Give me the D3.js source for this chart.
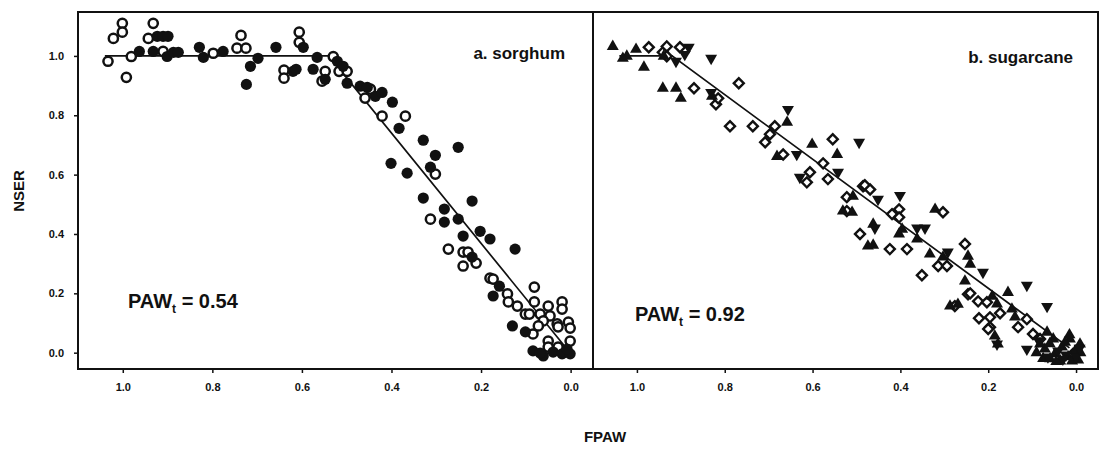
<!DOCTYPE html>
<html>
<head>
<meta charset="utf-8">
<script src="https://cdn.jsdelivr.net/npm/d3@7"></script>
<style>
  html, body { margin: 0; padding: 0; background: #fff; }
  svg { display: block; }
  text { font-family: "Liberation Sans", Arial, sans-serif; font-weight: bold; fill: #111; }
</style>
</head>
<body>
<svg id="chart" width="1102" height="452"></svg>
<script>
// ---------- DATA (FPAW, NSER) ----------
const xTicks = [1.0, 0.8, 0.6, 0.4, 0.2, 0.0];
const yTicks = [0.0, 0.2, 0.4, 0.6, 0.8, 1.0];

const sorghumOpen = [
  [1.033,0.982],[1.021,1.059],[1.001,1.110],[1.001,1.080],[0.992,0.928],[0.981,0.998],
  [0.943,1.059],[0.932,1.110],[0.910,1.015],[0.798,1.009],[0.745,1.026],[0.736,1.069],
  [0.725,1.026],[0.640,0.952],[0.640,0.925],[0.606,1.080],[0.606,1.046],[0.555,0.915],
  [0.548,0.948],[0.530,0.998],[0.517,0.948],[0.499,0.948],[0.447,0.888],[0.459,0.858],
  [0.421,0.797],[0.369,0.797],[0.302,0.602],[0.313,0.450],[0.273,0.349],[0.240,0.339],
  [0.229,0.339],[0.211,0.302],[0.240,0.292],[0.180,0.251],[0.173,0.248],[0.141,0.198],
  [0.139,0.171],[0.119,0.157],[0.081,0.221],[0.081,0.171],[0.101,0.130],[0.092,0.130],
  [0.050,0.157],[0.019,0.171],[0.019,0.147],[0.068,0.130],[0.046,0.124],[0.061,0.107],
  [0.030,0.097],[0.005,0.103],[0.001,0.083],[0.028,0.087],[0.072,0.090],[0.084,0.063],
  [0.050,0.039],[0.001,0.039],[0.050,0.019],[0.028,0.019]
];
const sorghumFilled = [
  [0.963,1.015],[0.932,1.015],[0.923,1.066],[0.910,1.066],[0.899,1.066],[0.901,0.998],
  [0.887,1.012],[0.876,1.012],[0.829,1.029],[0.820,0.995],[0.776,1.015],[0.715,0.965],
  [0.724,0.904],[0.698,0.992],[0.658,1.029],[0.620,0.948],[0.613,0.955],[0.597,1.029],
  [0.575,0.955],[0.566,0.995],[0.548,0.921],[0.521,0.982],[0.508,0.965],[0.499,0.908],
  [0.470,0.898],[0.454,0.894],[0.436,0.864],[0.421,0.877],[0.398,0.844],[0.383,0.756],
  [0.329,0.716],[0.251,0.692],[0.302,0.665],[0.401,0.638],[0.365,0.605],[0.313,0.625],
  [0.329,0.521],[0.220,0.511],[0.282,0.484],[0.282,0.440],[0.251,0.450],[0.202,0.409],
  [0.180,0.383],[0.240,0.393],[0.124,0.349],[0.220,0.322],[0.159,0.224],[0.173,0.191],
  [0.130,0.090],[0.101,0.070],[0.084,0.006],[0.061,-0.011],[0.039,0.002],[0.019,-0.004],
  [0.001,-0.004],[0.008,0.012],[0.068,-0.001]
];
const sorghumFit = [[1.04,1.0],[0.54,1.0],[0.015,0.025]];

const caneUp = [
  [1.055,1.032],[1.002,1.022],[1.023,0.999],[1.032,0.992],[0.984,0.962],[0.939,0.999],
  [0.941,0.891],[0.911,0.891],[0.900,0.857],[0.829,0.864],[0.658,0.776],[0.601,0.702],
  [0.681,0.661],[0.544,0.668],[0.531,0.477],[0.474,0.359],[0.508,0.527],[0.510,0.473],
  [0.462,0.433],[0.462,0.362],[0.403,0.400],[0.396,0.416],[0.362,0.383],[0.333,0.332],
  [0.303,0.322],[0.321,0.483],[0.246,0.325],[0.241,0.298],[0.253,0.241],[0.269,0.163],
  [0.155,0.203],[0.287,0.157],[0.191,0.190],[0.180,0.164],[0.146,0.147],[0.139,0.120],
  [0.185,0.056],[0.178,0.029],[0.066,0.069],[0.014,0.046],[0.052,0.046],[0.071,0.012],
  [0.048,-0.004],[0.032,0.019],[0.018,-0.014],[0.002,0.006],[-0.009,0.029],[0.059,-0.021],
  [0.036,-0.028],[0.009,-0.028],[0.082,0.029],[0.075,-0.020],[0.025,0.035],[0.045,-0.030],
  [-0.005,-0.025],[0.060,0.030],[0.015,0.060],[-0.010,0.000],[0.090,0.000]
];
const caneDown = [
  [0.882,1.029],[0.891,1.005],[0.911,0.982],[0.831,0.992],[0.831,0.877],[0.656,0.820],
  [0.494,0.709],[0.636,0.668],[0.629,0.591],[0.542,0.608],[0.451,0.517],[0.458,0.420],
  [0.401,0.530],[0.362,0.420],[0.344,0.420],[0.292,0.339],[0.212,0.271],[0.112,0.227],
  [0.066,0.156],[0.180,0.029],[0.112,0.012],[0.041,0.006],[0.023,-0.008],[0.000,-0.014],
  [0.064,-0.014],[0.030,-0.022],[0.085,0.040],[-0.008,0.015]
];
const caneDiamond = [
  [0.973,1.029],[0.941,1.012],[0.932,1.032],[0.902,1.029],[0.932,0.999],[0.870,0.891],
  [0.768,0.908],[0.820,0.837],[0.815,0.857],[0.788,0.763],[0.736,0.763],[0.686,0.763],
  [0.697,0.736],[0.708,0.709],[0.554,0.719],[0.667,0.668],[0.576,0.638],[0.606,0.608],
  [0.613,0.574],[0.565,0.585],[0.522,0.524],[0.522,0.477],[0.485,0.561],[0.492,0.400],
  [0.481,0.564],[0.469,0.550],[0.424,0.349],[0.385,0.349],[0.403,0.483],[0.403,0.456],
  [0.419,0.467],[0.351,0.261],[0.314,0.292],[0.294,0.292],[0.253,0.366],[0.303,0.473],
  [0.246,0.197],[0.223,0.173],[0.203,0.170],[0.241,0.200],[0.276,0.157],[0.221,0.116],
  [0.196,0.119],[0.196,0.086],[0.173,0.133],[0.132,0.086],[0.112,0.113],[0.098,0.063],
  [0.082,0.046],[0.007,-0.004],[0.200,0.080]
];
const caneFit = [[1.04,1.0],[0.92,1.0],[0.015,0.016]];

// ---------- LAYOUT ----------
const svg = d3.select("#chart");
const plotTop = 12, plotBottom = 369;
const panels = [
  {x0: 78, x1: 593, label: "a. sorghum", paw: "0.54", labelPos: [565, 59], pawPos: [128, 308]},
  {x0: 593, x1: 1098, label: "b. sugarcane", paw: "0.92", labelPos: [1073, 63], pawPos: [635, 321]}
];
const y = d3.scaleLinear().domain([-0.055, 1.148]).range([plotBottom, plotTop]);
panels.forEach(p => { p.x = d3.scaleLinear().domain([1.1, -0.05]).range([p.x0, p.x1]); });

// x axes
panels.forEach(p => {
  const g = svg.append("g").attr("transform", `translate(0,${plotBottom})`)
    .call(d3.axisBottom(p.x).tickValues(xTicks).tickFormat(d3.format(".1f")).tickSize(4).tickPadding(10));
  g.select(".domain").remove();
  g.selectAll("line").attr("stroke", "#111").attr("stroke-width", 1.5);
  g.selectAll("text").style("font-size", "11px").style("font-weight", "bold").attr("fill", "#111");
});
// y axis
{
  const g = svg.append("g").attr("transform", `translate(${panels[0].x0},0)`)
    .call(d3.axisLeft(y).tickValues(yTicks).tickFormat(d3.format(".1f")).tickSize(4).tickPadding(10));
  g.select(".domain").remove();
  g.selectAll("line").attr("stroke", "#111").attr("stroke-width", 1.5);
  g.selectAll("text").style("font-size", "11px").style("font-weight", "bold").attr("fill", "#111");
}

// frames
panels.forEach(p => {
  svg.append("rect").attr("x", p.x0).attr("y", plotTop).attr("width", p.x1 - p.x0).attr("height", plotBottom - plotTop)
    .attr("fill", "none").attr("stroke", "#111").attr("stroke-width", 2);
});

// fit lines
const line = sx => d3.line().x(d => sx(d[0])).y(d => y(d[1]));
svg.append("path").datum(sorghumFit).attr("d", line(panels[0].x)).attr("fill", "none").attr("stroke", "#111").attr("stroke-width", 1.7);
svg.append("path").datum(caneFit).attr("d", line(panels[1].x)).attr("fill", "none").attr("stroke", "#111").attr("stroke-width", 1.7);

// sorghum points
const xa = panels[0].x, xb = panels[1].x;
svg.append("g").selectAll("circle").data(sorghumOpen).join("circle")
  .attr("cx", d => xa(d[0])).attr("cy", d => y(d[1])).attr("r", 4.6)
  .attr("fill", "#fff").attr("stroke", "#111").attr("stroke-width", 2.5);
svg.append("g").selectAll("circle").data(sorghumFilled).join("circle")
  .attr("cx", d => xa(d[0])).attr("cy", d => y(d[1])).attr("r", 5.6)
  .attr("fill", "#111");

// sugarcane points
const tri = d3.symbol(d3.symbolTriangle, 62)();
const sq = d3.symbol(d3.symbolSquare, 50)();
svg.append("g").selectAll("path").data(caneDiamond).join("path")
  .attr("d", sq).attr("transform", d => `translate(${xb(d[0])},${y(d[1])}) rotate(45)`)
  .attr("fill", "#fff").attr("stroke", "#111").attr("stroke-width", 2.4);
svg.append("g").selectAll("path").data(caneUp).join("path")
  .attr("d", tri).attr("transform", d => `translate(${xb(d[0])},${y(d[1])})`)
  .attr("fill", "#111");
svg.append("g").selectAll("path").data(caneDown).join("path")
  .attr("d", tri).attr("transform", d => `translate(${xb(d[0])},${y(d[1])}) rotate(180)`)
  .attr("fill", "#111");

// annotations
panels.forEach(p => {
  svg.append("text").attr("x", p.labelPos[0]).attr("y", p.labelPos[1]).attr("text-anchor", "end")
    .style("font-size", "17px").text(p.label);
  const t = svg.append("text").attr("x", p.pawPos[0]).attr("y", p.pawPos[1]).style("font-size", "20px");
  t.append("tspan").text("PAW");
  t.append("tspan").attr("dy", 5).style("font-size", "12px").text("t");
  t.append("tspan").attr("dy", -5).text(" = " + p.paw);
});

// axis titles
svg.append("text").attr("x", 605).attr("y", 442).attr("text-anchor", "middle").style("font-size", "15px").text("FPAW");
svg.append("text").attr("transform", "translate(24,191) rotate(-90)").attr("text-anchor", "middle")
  .style("font-size", "15px").text("NSER");
</script>
</body>
</html>
